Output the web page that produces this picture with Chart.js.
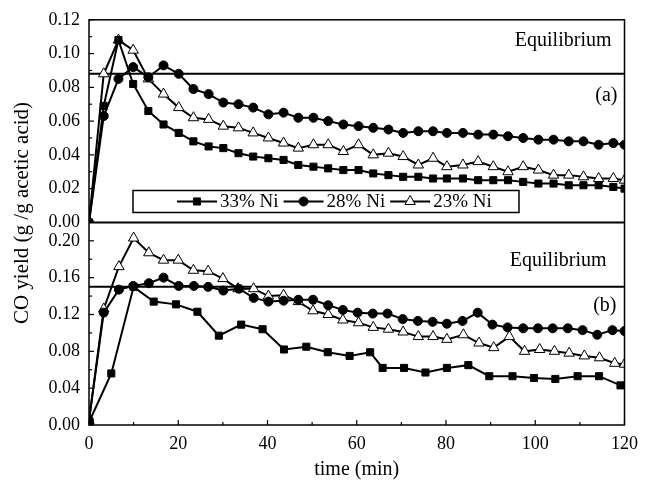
<!DOCTYPE html>
<html>
<head>
<meta charset="utf-8">
<script src="https://cdn.jsdelivr.net/npm/chart.js@4.4.1/dist/chart.umd.min.js"></script>
<style>
  html, body { margin: 0; padding: 0; background: #fff; }
  #wrap { position: relative; width: 646px; height: 480px; }
</style>
</head>
<body>
<div id="wrap"><canvas id="co-chart" width="646" height="480"></canvas></div>
<script>
const seriesNames = ['33% Ni', '28% Ni', '23% Ni']

// panel (a)
const timeA = [0, 3.3, 6.6, 9.9, 13.3, 16.7, 20.1, 23.4, 26.8, 30.1, 33.5, 36.8, 40.2, 43.6, 46.9, 50.3, 53.6, 57.0, 60.4,
  63.7, 67.1, 70.4, 73.8, 77.1, 80.2, 83.8, 87.2, 90.6, 93.9, 97.3, 100.7, 104.1, 107.5, 110.8, 114.2, 117.5, 120]
const ni33A = [0.000, 0.069, 0.108, 0.082, 0.066, 0.058, 0.053, 0.048, 0.045, 0.044, 0.041, 0.039, 0.038, 0.037, 0.034, 0.033,
  0.032, 0.031, 0.031, 0.029, 0.028, 0.027, 0.027, 0.026, 0.026, 0.026, 0.025, 0.025, 0.025, 0.024, 0.023, 0.023, 0.022,
  0.022, 0.022, 0.021, 0.020]
const ni28A = [0.000, 0.063, 0.085, 0.092, 0.086, 0.093, 0.088, 0.079, 0.076, 0.071, 0.070, 0.068, 0.064, 0.065, 0.062, 0.062,
  0.060, 0.058, 0.057, 0.056, 0.055, 0.053, 0.054, 0.054, 0.053, 0.053, 0.052, 0.052, 0.051, 0.050, 0.049, 0.049, 0.048,
  0.048, 0.046, 0.047, 0.046]
const ni23A = [0.000, 0.088, 0.108, 0.102, 0.085, 0.076, 0.068, 0.062, 0.061, 0.057, 0.056, 0.053, 0.050, 0.047, 0.044, 0.046,
  0.046, 0.042, 0.046, 0.040, 0.041, 0.039, 0.034, 0.038, 0.033, 0.034, 0.036, 0.033, 0.030, 0.033, 0.031, 0.028, 0.028,
  0.027, 0.026, 0.026, 0.025]
const equilibriumA = 0.088

// panel (b)
const timeB33 = [0, 5.0, 10.0, 14.5, 19.5, 24.3, 29.1, 34.1, 38.9, 43.7, 48.7, 53.5, 58.4, 63.0, 65.8, 70.6, 75.4, 80.2,
  85.0, 89.7, 94.9, 99.7, 104.5, 109.5, 114.3, 119.1]
const ni33B = [0.003, 0.056, 0.150, 0.134, 0.131, 0.123, 0.097, 0.109, 0.104, 0.082, 0.085, 0.079, 0.075, 0.079, 0.062,
  0.062, 0.057, 0.062, 0.065, 0.053, 0.053, 0.051, 0.050, 0.053, 0.053, 0.043]
const timeB28 = [0, 3.3, 6.7, 9.9, 13.4, 16.7, 20.1, 23.5, 26.7, 30.1, 33.6, 36.9, 40.2, 43.6, 46.9, 50.2, 53.6, 56.9, 60.2,
  63.6, 66.9, 70.3, 73.7, 77.0, 80.2, 83.7, 87.1, 90.4, 93.8, 97.3, 100.6, 103.9, 107.3, 110.6, 113.9, 117.3, 120]
const ni28B = [0.005, 0.122, 0.147, 0.151, 0.154, 0.160, 0.151, 0.151, 0.150, 0.146, 0.148, 0.138, 0.134, 0.135, 0.136,
  0.136, 0.130, 0.125, 0.122, 0.121, 0.121, 0.115, 0.113, 0.112, 0.110, 0.113, 0.122, 0.109, 0.106, 0.105, 0.105, 0.105,
  0.105, 0.103, 0.098, 0.103, 0.102]
const timeB23 = [0, 3.3, 6.7, 10.0, 13.4, 16.7, 20.0, 23.4, 26.7, 30.0, 33.4, 36.9, 40.2, 43.6, 46.9, 50.2, 53.6, 56.9, 60.4,
  63.7, 67.1, 70.4, 73.8, 77.1, 80.2, 83.9, 87.4, 90.7, 94.2, 97.6, 101.0, 104.3, 107.6, 111.0, 114.4, 117.8, 120]
const ni23B = [0.005, 0.126, 0.172, 0.203, 0.187, 0.179, 0.179, 0.168, 0.167, 0.159, 0.148, 0.148, 0.140, 0.141, 0.134,
  0.124, 0.120, 0.114, 0.111, 0.106, 0.104, 0.101, 0.096, 0.096, 0.093, 0.098, 0.089, 0.084, 0.096, 0.080, 0.082, 0.080,
  0.078, 0.075, 0.073, 0.067, 0.066]
const equilibriumB = 0.15

const xTicks = [0, 20, 40, 60, 80, 100, 120]
const yTicksA = [0, 0.02, 0.04, 0.06, 0.08, 0.10, 0.12]
const yTicksB = [0, 0.04, 0.08, 0.12, 0.16, 0.20]

const SERIF = '"Liberation Serif", "Times New Roman", serif'
Chart.defaults.font.family = SERIF
Chart.defaults.font.weight = 'normal'
Chart.defaults.color = '#000'

const markers = [
  { pointStyle: 'rect', pointRadius: 5, pointBackgroundColor: '#000' },
  { pointStyle: 'circle', pointRadius: 4.5, pointBackgroundColor: '#000' },
  { pointStyle: 'triangle', pointRadius: 6, pointBackgroundColor: '#fff' }
]

const pts = (xs, ys) => ys.map((y, i) => ({ x: xs[i], y }))

function series(i, data, axis) {
  return {
    label: seriesNames[i],
    data,
    yAxisID: axis,
    borderColor: '#000',
    borderWidth: 2,
    pointBorderColor: '#000',
    pointBorderWidth: 1,
    pointHoverRadius: 0,
    tension: 0,
    ...markers[i]
  }
}

function equilibrium(value, axis) {
  return {
    label: 'Equilibrium',
    data: [{ x: 0, y: value }, { x: 120, y: value }],
    yAxisID: axis,
    borderColor: '#000',
    borderWidth: 2,
    pointRadius: 0
  }
}

const fmt = v => Number(v).toFixed(2)
const tickFont = { size: 18, weight: 'normal' }

// frame, inward ticks, panel texts, y title and the boxed legend
const decor = {
  id: 'decor',
  afterDraw(chart) {
    const ctx = chart.ctx
    const { left, right, top, bottom } = chart.chartArea
    const x = chart.scales.x
    const yA = chart.scales.yA
    const yB = chart.scales.yB
    ctx.save()
    ctx.strokeStyle = '#000'
    ctx.fillStyle = '#000'

    const line = (x1, y1, x2, y2) => {
      ctx.beginPath()
      ctx.moveTo(x1, y1)
      ctx.lineTo(x2, y2)
      ctx.stroke()
    }

    ctx.lineWidth = 1.5
    ctx.strokeRect(left, top, right - left, bottom - top)
    ctx.lineWidth = 2
    line(left, yA.bottom, right, yA.bottom)

    ctx.lineWidth = 1.2
    const yTicks = (scale, majors) => {
      majors.forEach((v, i) => {
        const p = scale.getPixelForValue(v)
        line(left, p, left + 5, p)
        if (i < majors.length - 1) {
          const m = scale.getPixelForValue((v + majors[i + 1]) / 2)
          line(left, m, left + 3, m)
        }
      })
    }
    yTicks(yA, yTicksA)
    yTicks(yB, yTicksB)
    xTicks.forEach((v, i) => {
      const p = x.getPixelForValue(v)
      line(p, bottom, p, bottom - 5)
      if (i < xTicks.length - 1) {
        const m = x.getPixelForValue((v + xTicks[i + 1]) / 2)
        line(m, bottom, m, bottom - 3)
      }
    })

    ctx.font = '20px ' + SERIF
    ctx.textAlign = 'right'
    ctx.textBaseline = 'middle'
    ctx.fillText('Equilibrium', right - 13, yA.getPixelForValue(0.1077))
    ctx.fillText('(a)', right - 7, yA.getPixelForValue(0.0751))
    ctx.fillText('Equilibrium', right - 18, yB.getPixelForValue(0.1784))
    ctx.fillText('(b)', right - 8, yB.getPixelForValue(0.1297))

    // y title spans both panels
    ctx.save()
    ctx.font = '21px ' + SERIF
    ctx.textAlign = 'center'
    ctx.translate(22, 213)
    ctx.rotate(-Math.PI / 2)
    ctx.fillText('CO yield (g /g acetic acid)', 0, 0)
    ctx.restore()

    // legend box inside panel (a)
    const boxL = left + 44
    const boxT = yA.getPixelForValue(0.0189)
    ctx.lineWidth = 1.5
    ctx.strokeRect(boxL, boxT, 386, 22)
    const ly = boxT + 11
    let lx = boxL + 44
    ctx.font = '19px ' + SERIF
    ctx.textAlign = 'left'
    seriesNames.forEach((name, i) => {
      ctx.lineWidth = 2
      line(lx, ly, lx + 40, ly)
      ctx.lineWidth = 1
      ctx.fillStyle = markers[i].pointBackgroundColor
      Chart.helpers.drawPoint(ctx, { pointStyle: markers[i].pointStyle, radius: markers[i].pointRadius, borderWidth: 1, rotation: 0 }, lx + 20, ly)
      ctx.fillStyle = '#000'
      ctx.fillText(name, lx + 43, ly + 1)
      lx += 43 + ctx.measureText(name).width + 5
    })
    ctx.restore()
  }
}

new Chart(document.getElementById('co-chart'), {
  type: 'line',
  data: {
    datasets: [
      series(0, pts(timeA, ni33A), 'yA'),
      series(1, pts(timeA, ni28A), 'yA'),
      series(2, pts(timeA, ni23A), 'yA'),
      series(0, pts(timeB33, ni33B), 'yB'),
      series(1, pts(timeB28, ni28B), 'yB'),
      series(2, pts(timeB23, ni23B), 'yB'),
      equilibrium(equilibriumA, 'yA'),
      equilibrium(equilibriumB, 'yB')
    ]
  },
  options: {
    responsive: false,
    animation: false,
    layout: { padding: { top: 18, right: 16, left: 0, bottom: 0 } },
    plugins: {
      legend: { display: false },
      tooltip: { enabled: false }
    },
    scales: {
      x: {
        type: 'linear',
        min: 0,
        max: 120,
        afterBuildTicks: s => { s.ticks = xTicks.map(v => ({ value: v })) },
        afterFit: s => { s.height = 55 },
        grid: { display: false, drawTicks: false },
        border: { display: false },
        ticks: { font: tickFont, padding: 8, maxRotation: 0, autoSkip: false },
        title: { display: true, text: 'time (min)', font: { size: 20, weight: 'normal', lineHeight: 1 }, padding: { top: 0, bottom: 0 } }
      },
      yB: {
        type: 'linear',
        position: 'left',
        stack: 'co',
        stackWeight: 1,
        min: 0,
        max: 0.22,
        afterBuildTicks: s => { s.ticks = yTicksB.map(v => ({ value: v })) },
        afterFit: s => { s.width = 89 },
        grid: { display: false, drawTicks: false },
        border: { display: false },
        ticks: { font: tickFont, padding: 9, autoSkip: false, callback: fmt }
      },
      yA: {
        type: 'linear',
        position: 'left',
        stack: 'co',
        stackWeight: 1,
        min: 0,
        max: 0.12,
        afterBuildTicks: s => { s.ticks = yTicksA.map(v => ({ value: v })) },
        afterFit: s => { s.width = 89 },
        grid: { display: false, drawTicks: false },
        border: { display: false },
        ticks: { font: tickFont, padding: 9, autoSkip: false, callback: fmt }
      }
    }
  },
  plugins: [decor]
})
</script>
</body>
</html>
